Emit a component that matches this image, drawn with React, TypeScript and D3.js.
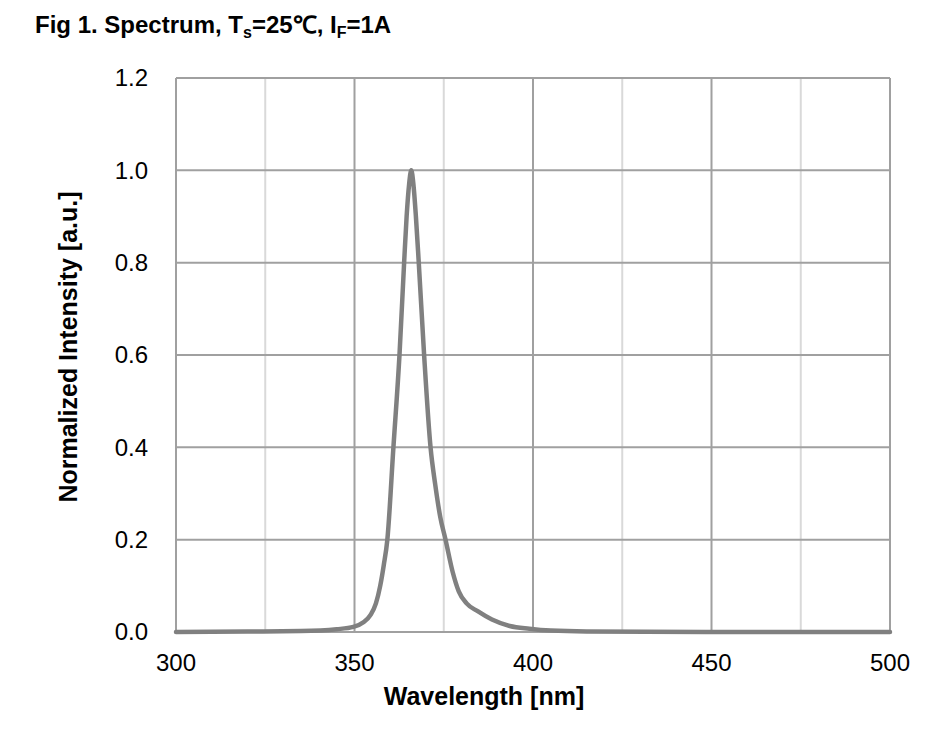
import React from "react";
import * as d3 from "d3";

const wavelengths = [300, 320, 335, 345, 349.7, 352.5, 354.5, 356, 357.2, 358.2, 359.2, 360.9, 362.6, 363.9, 364.6, 365.3, 365.9, 366.5, 367.2, 368, 369.5, 371.3, 372.6, 374, 375.5, 377.5, 379.2, 381.4, 384.5, 388.5, 393.5, 399, 405, 415, 450, 500];
const intensity = [0.0, 0.001, 0.002, 0.006, 0.011, 0.021, 0.037, 0.062, 0.1, 0.145, 0.2, 0.4, 0.6, 0.8, 0.9, 0.97, 1.0, 0.97, 0.9, 0.8, 0.6, 0.4, 0.32, 0.25, 0.2, 0.13, 0.088, 0.062, 0.045, 0.027, 0.013, 0.007, 0.003, 0.001, 0.0, 0.0];
const xTicks = [300, 350, 400, 450, 500];
const xMinor = [325, 375, 425, 475];
const yTicks = [0, 0.2, 0.4, 0.6, 0.8, 1.0, 1.2];

const W = 952, H = 733;
const left = 176, right = 890, top = 78, bottom = 632;

export default function App() {
  const x = d3.scaleLinear().domain([300, 500]).range([left, right]);
  const y = d3.scaleLinear().domain([0, 1.2]).range([bottom, top]);
  const data = wavelengths.map((w, i) => [w, intensity[i]] as [number, number]);
  const line = d3.line<[number, number]>().x(d => x(d[0])).y(d => y(d[1])).curve(d3.curveMonotoneX);
  const font = "'Liberation Sans', Arial, sans-serif";
  return (
    <svg width={W} height={H} style={{ position: "absolute", left: 0, top: 0, background: "#fff" }} fontFamily={font}>
      <rect x={0} y={0} width={W} height={H} fill="#fff" />
      <text x={35} y={33} fontSize={24} fontWeight="bold" fill="#000">
        <tspan>Fig 1. Spectrum, T</tspan>
        <tspan fontSize={16} dy={5}>s</tspan>
        <tspan dy={-5}>=25℃, I</tspan>
        <tspan fontSize={16} dy={5}>F</tspan>
        <tspan dy={-5}>=1A</tspan>
      </text>
      {xMinor.map(t => (
        <line key={"m" + t} x1={x(t)} x2={x(t)} y1={top} y2={bottom} stroke="#d9d9d9" strokeWidth={2} />
      ))}
      {xTicks.map(t => (
        <line key={"x" + t} x1={x(t)} x2={x(t)} y1={top} y2={bottom} stroke="#a0a0a0" strokeWidth={2} />
      ))}
      {yTicks.map(t => (
        <line key={"y" + t} x1={left} x2={right} y1={y(t)} y2={y(t)} stroke="#a0a0a0" strokeWidth={2} />
      ))}
      {xTicks.map(t => (
        <text key={"xl" + t} x={x(t)} y={671} fontSize={24} textAnchor="middle" fill="#000">{t}</text>
      ))}
      {yTicks.map(t => (
        <text key={"yl" + t} x={148} y={y(t)} dy="0.35em" fontSize={24} textAnchor="end" fill="#000">{t.toFixed(1)}</text>
      ))}
      <path d={line(data) || ""} fill="none" stroke="#808080" strokeWidth={4.5} strokeLinejoin="round" strokeLinecap="round" />
      <text x={484} y={705} fontSize={25} fontWeight="bold" textAnchor="middle" fill="#000">Wavelength [nm]</text>
      <text transform={`translate(77,347) rotate(-90)`} fontSize={25} fontWeight="bold" textAnchor="middle" fill="#000">Normalized Intensity [a.u.]</text>
    </svg>
  );
}
